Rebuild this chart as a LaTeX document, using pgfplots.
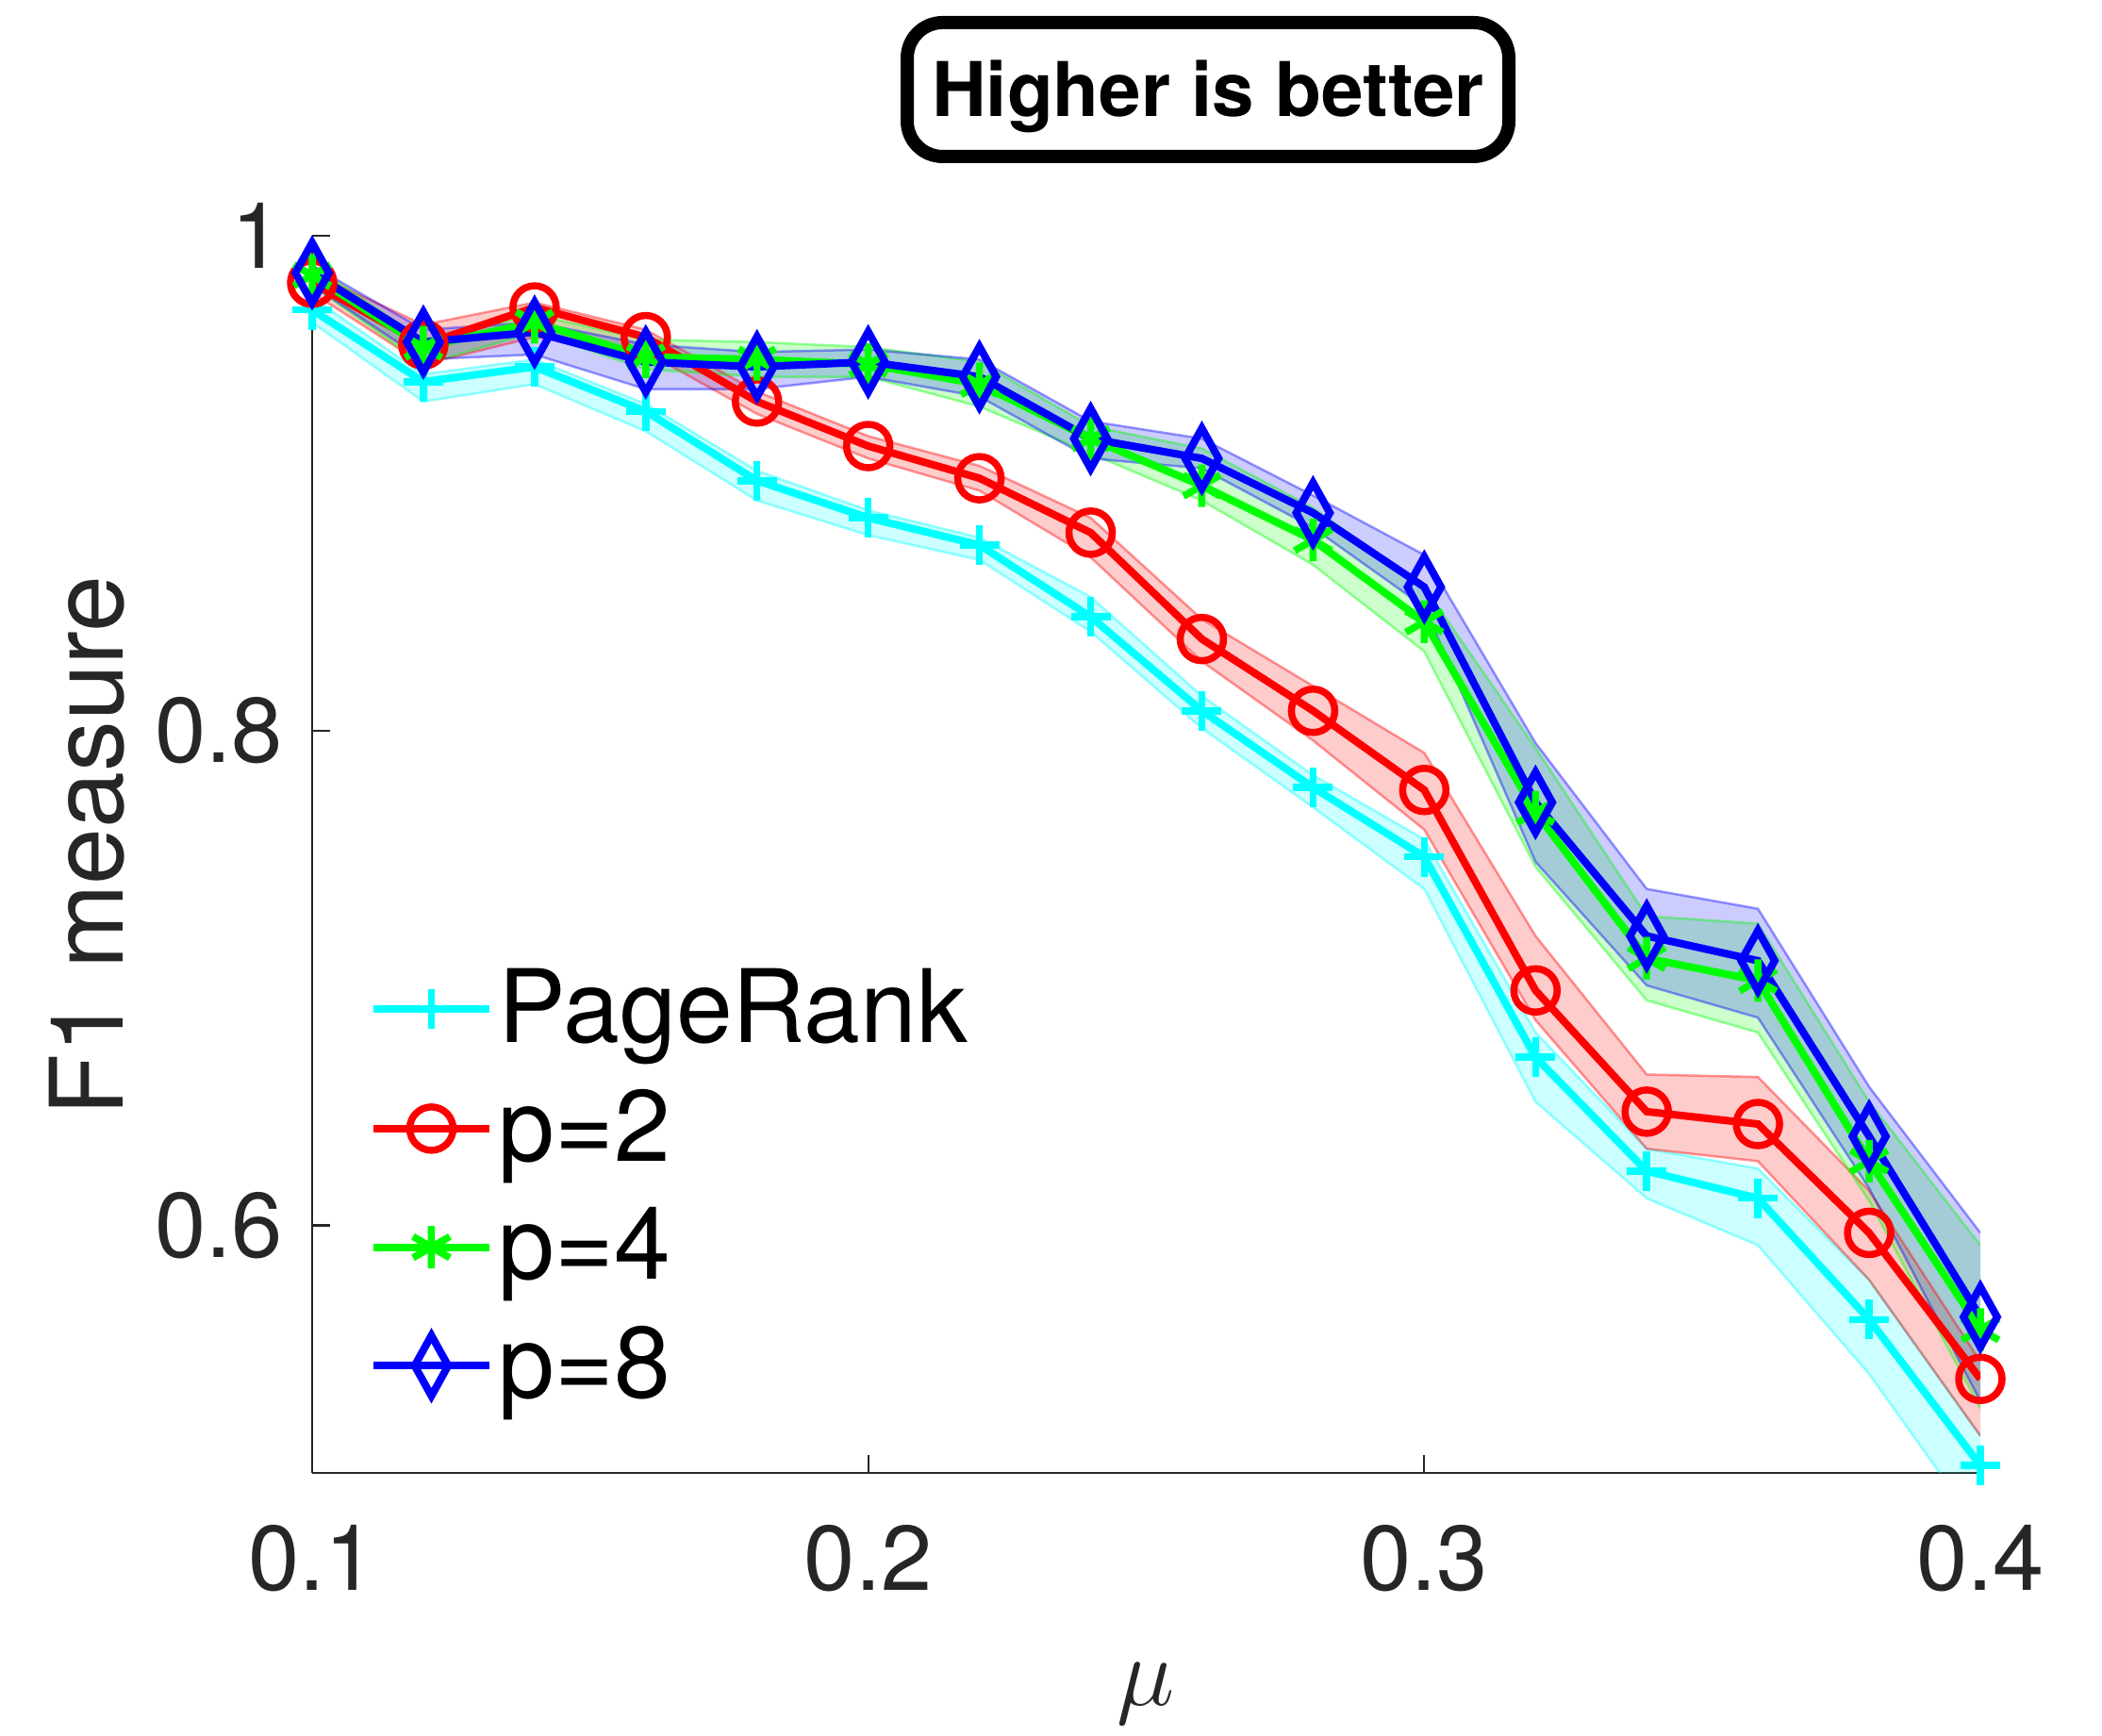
\documentclass[border=0pt]{standalone}
\usepackage{pgfplots}
\pgfplotsset{compat=1.18}
\usepackage{pgfplotstable}
\usepgfplotslibrary{fillbetween}
\usepackage{fontspec}
\setmainfont{TeX Gyre Heros}

\definecolor{axgray}{RGB}{38,38,38}
\definecolor{mcyan}{rgb}{0,1,1}
\definecolor{mred}{rgb}{1,0,0}
\definecolor{mgreen}{rgb}{0,1,0}
\definecolor{mblue}{rgb}{0,0,1}

% x, mean, lower band, upper band
\pgfplotstableread{
x    m     lo    hi
0.10 0.970 0.965 0.975
0.12 0.941 0.933 0.944
0.14 0.947 0.940 0.950
0.16 0.929 0.921 0.932
0.18 0.901 0.893 0.905
0.20 0.886 0.879 0.889
0.22 0.875 0.869 0.878
0.24 0.846 0.840 0.854
0.26 0.808 0.801 0.814
0.28 0.777 0.769 0.782
0.30 0.749 0.736 0.756
0.32 0.668 0.650 0.678
0.34 0.622 0.611 0.631
0.36 0.611 0.592 0.623
0.38 0.562 0.540 0.578
0.40 0.503 0.477 0.515
}\pagerank

\pgfplotstableread{
x    m     lo    hi
0.10 0.981 0.977 0.985
0.12 0.956 0.948 0.964
0.14 0.971 0.959 0.973
0.16 0.959 0.953 0.962
0.18 0.933 0.928 0.937
0.20 0.915 0.910 0.919
0.22 0.902 0.897 0.907
0.24 0.880 0.870 0.886
0.26 0.837 0.828 0.845
0.28 0.808 0.796 0.818
0.30 0.776 0.760 0.791
0.32 0.695 0.683 0.717
0.34 0.646 0.631 0.661
0.36 0.641 0.626 0.660
0.38 0.597 0.578 0.614
0.40 0.538 0.515 0.545
}\ptwo

\pgfplotstableread{
x    m     lo    hi
0.10 0.984 0.980 0.988
0.12 0.955 0.948 0.958
0.14 0.965 0.961 0.968
0.16 0.951 0.946 0.958
0.18 0.950 0.943 0.957
0.20 0.948 0.943 0.955
0.22 0.940 0.931 0.949
0.24 0.918 0.912 0.923
0.26 0.899 0.893 0.914
0.28 0.877 0.867 0.890
0.30 0.844 0.832 0.858
0.32 0.767 0.745 0.793
0.34 0.708 0.691 0.725
0.36 0.699 0.678 0.722
0.38 0.626 0.610 0.650
0.40 0.558 0.526 0.592
}\pfour

\pgfplotstableread{
x    m     lo    hi
0.10 0.985 0.980 0.988
0.12 0.957 0.950 0.962
0.14 0.961 0.952 0.965
0.16 0.949 0.938 0.956
0.18 0.947 0.938 0.953
0.20 0.949 0.943 0.954
0.22 0.943 0.935 0.950
0.24 0.918 0.910 0.925
0.26 0.910 0.906 0.918
0.28 0.888 0.882 0.895
0.30 0.858 0.850 0.871
0.32 0.771 0.747 0.795
0.34 0.717 0.697 0.736
0.36 0.707 0.684 0.728
0.38 0.636 0.615 0.656
0.40 0.563 0.529 0.597
}\peight

\pgfplotsset{
  edge/.style={draw=#1, draw opacity=0.4, line width=0.5pt, forget plot},
  band/.style={fill=#1, fill opacity=0.2, draw=none, forget plot},
  mean/.style={draw=#1, line width=1.6pt, mark options={solid, line width=1.5pt}}}

\begin{document}
\begin{tikzpicture}
\begin{axis}[
  at={(0pt,0pt)}, anchor=south west,
  scale only axis, width=353.8pt, height=262.4pt,
  xmin=0.1, xmax=0.4, ymin=0.5, ymax=1,
  axis lines*=left,
  axis line style={axgray, line width=0.45pt},
  tick align=inside, major tick length=3.8pt,
  tick style={axgray, line width=0.45pt},
  xtick={0.1,0.2,0.3,0.4}, xticklabels={0.1,0.2,0.3,0.4},
  ytick={0.6,0.8,1}, yticklabels={0.6,0.8,1},
  ticklabel style={font=\fontsize{19.5}{19.5}\selectfont, text=axgray, inner sep=0pt},
  xticklabel style={anchor=north, yshift=-10.8pt},
  yticklabel style={anchor=east, xshift=-6pt},
  xlabel={$\mu$},
  xlabel style={at={(axis description cs:0.5,-0.1532)}, anchor=north, inner sep=0pt,
    font=\fontsize{22}{22}\selectfont, text=axgray},
  ylabel={F1 measure},
  ylabel style={at={(axis description cs:-0.1348,0.507)}, anchor=center, inner sep=0pt,
    font=\fontsize{21.5}{21.5}\selectfont, text=axgray},
  legend style={at={(axis description cs:0.0339,0.413)}, anchor=north west,
    draw=none, fill=none, inner sep=0pt, row sep=6pt,
    font=\fontsize{21.5}{21.5}\selectfont, nodes={inner sep=1.2pt}},
  legend cell align=left,
  legend image code/.code={\draw[mark repeat=2,mark phase=2,#1]
    plot coordinates {(0pt,0pt) (12.3pt,0pt) (24.6pt,0pt)};},
]
% shaded bands
\addplot[edge=mcyan, name path=prhi] table[x=x,y=hi]{\pagerank};
\addplot[edge=mcyan, name path=prlo] table[x=x,y=lo]{\pagerank};
\addplot[band=mcyan] fill between[of=prhi and prlo];
\addplot[edge=mred, name path=p2hi] table[x=x,y=hi]{\ptwo};
\addplot[edge=mred, name path=p2lo] table[x=x,y=lo]{\ptwo};
\addplot[band=mred] fill between[of=p2hi and p2lo];
\addplot[edge=mgreen, name path=p4hi] table[x=x,y=hi]{\pfour};
\addplot[edge=mgreen, name path=p4lo] table[x=x,y=lo]{\pfour};
\addplot[band=mgreen] fill between[of=p4hi and p4lo];
\addplot[edge=mblue, name path=p8hi] table[x=x,y=hi]{\peight};
\addplot[edge=mblue, name path=p8lo] table[x=x,y=lo]{\peight};
\addplot[band=mblue] fill between[of=p8hi and p8lo];

% means
\addplot[mean=mcyan, mark=+, mark size=4.2pt] table[x=x,y=m]{\pagerank};
\addlegendentry{PageRank}
\addplot[mean=mred, mark=o, mark size=4.6pt] table[x=x,y=m]{\ptwo};
\addlegendentry{p=2}
\addplot[mean=mgreen, mark=asterisk, mark size=4.5pt] table[x=x,y=m]{\pfour};
\addlegendentry{p=4}
\addplot[mean=mblue, mark=diamond, mark size=6.4pt, mark options={xscale=0.74}] table[x=x,y=m]{\peight};
\addlegendentry{p=8}
\end{axis}
\node[draw, line width=2.8pt, rounded corners=7.5pt, minimum width=127.6pt,
  minimum height=28.4pt, inner sep=0pt, text height=11.5pt, text depth=0pt,
  font=\fontsize{16}{16}\selectfont\bfseries] at (190pt,293.4pt) {Higher is better};
\pgfresetboundingbox
\path[use as bounding box] (-66.2pt,-55.8pt) rectangle (379.6pt,312.4pt);
\end{tikzpicture}
\end{document}
